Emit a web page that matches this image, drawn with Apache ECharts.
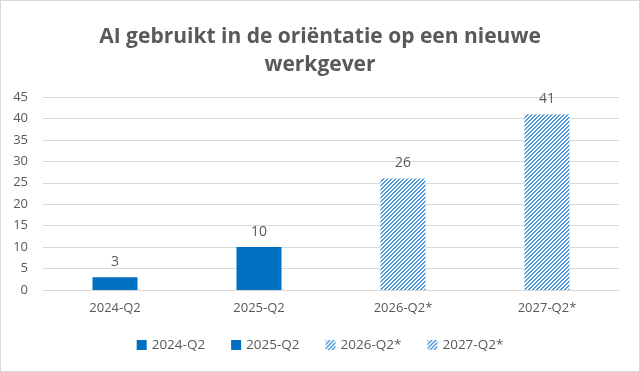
<!DOCTYPE html>
<html><head><meta charset="utf-8">
<script src="https://cdn.jsdelivr.net/npm/echarts@6/dist/echarts.min.js"></script>
<style>html,body{margin:0;padding:0;background:#fff}#c{width:638px;height:370px;border:1px solid #d9d9d9}</style>
</head><body><div id="c"></div>
<script>
const categories = ['2024-Q2','2025-Q2','2026-Q2*','2027-Q2*'];
const values = [3, 10, 26, 41];
const seriesNames = ['2024-Q2','2025-Q2','2026-Q2*','2027-Q2*'];
const hatched = [false, false, true, true];
const yTicks = {min:0, max:45, interval:5};

function makePattern(){
  const n = 4;
  const c = document.createElement('canvas');
  c.width = n; c.height = n;
  const g = c.getContext('2d');
  const img = g.createImageData(n, n);
  for (let y = 0; y < n; y++) {
    for (let x = 0; x < n; x++) {
      const k = (x + y) % n;
      const i = (y * n + x) * 4;
      const on = (k === 3 || k === 0);
      img.data[i]   = on ? 0x4f : 255;
      img.data[i+1] = on ? 0x9a : 255;
      img.data[i+2] = on ? 0xdb : 255;
      img.data[i+3] = 255;
    }
  }
  g.putImageData(img, 0, 0);
  return c;
}
const pat = {image: makePattern(), repeat: 'repeat'};
const chart = echarts.init(document.getElementById('c'), null, {renderer:'canvas'});
const series = seriesNames.map((n,i)=>({
  name: n, type: 'bar', stack: 'a', barWidth: 45,
  data: categories.map((_,j)=> j===i ? values[j] : '-'),
  itemStyle: {color: hatched[i] ? pat : '#0070c0'},
  label: {show: true, position: 'top', color: '#595959', fontSize: 14, fontFamily: 'Open Sans', distance: 8}
}));
chart.setOption({
  animation: false,
  title: {text: 'AI gebruikt in de oriëntatie op een nieuwe\nwerkgever', left: 'center', top: 17,
    textStyle: {color: '#595959', fontSize: 21, fontWeight: 'bold', fontFamily: 'Open Sans', lineHeight: 28}},
  grid: {left: 42, right: 20, top: 96, bottom: 81},
  xAxis: {type: 'category', data: categories,
    axisLine: {lineStyle: {color: '#d9d9d9'}}, axisTick: {show: false},
    axisLabel: {color: '#595959', fontSize: 13, fontFamily: 'Open Sans', margin: 12}},
  yAxis: {type: 'value', min: yTicks.min, max: yTicks.max, interval: yTicks.interval,
    axisLine: {show: false}, axisTick: {show: false},
    splitLine: {lineStyle: {color: '#d9d9d9'}},
    axisLabel: {color: '#595959', fontSize: 13, fontFamily: 'Open Sans', margin: 15}},
  legend: {bottom: 14, left: 'center', itemWidth: 10, itemHeight: 10, itemGap: 26,
    icon: 'rect',
    textStyle: {color: '#595959', fontSize: 13.5, fontFamily: 'Open Sans'}},
  series: series
});
</script></body></html>
